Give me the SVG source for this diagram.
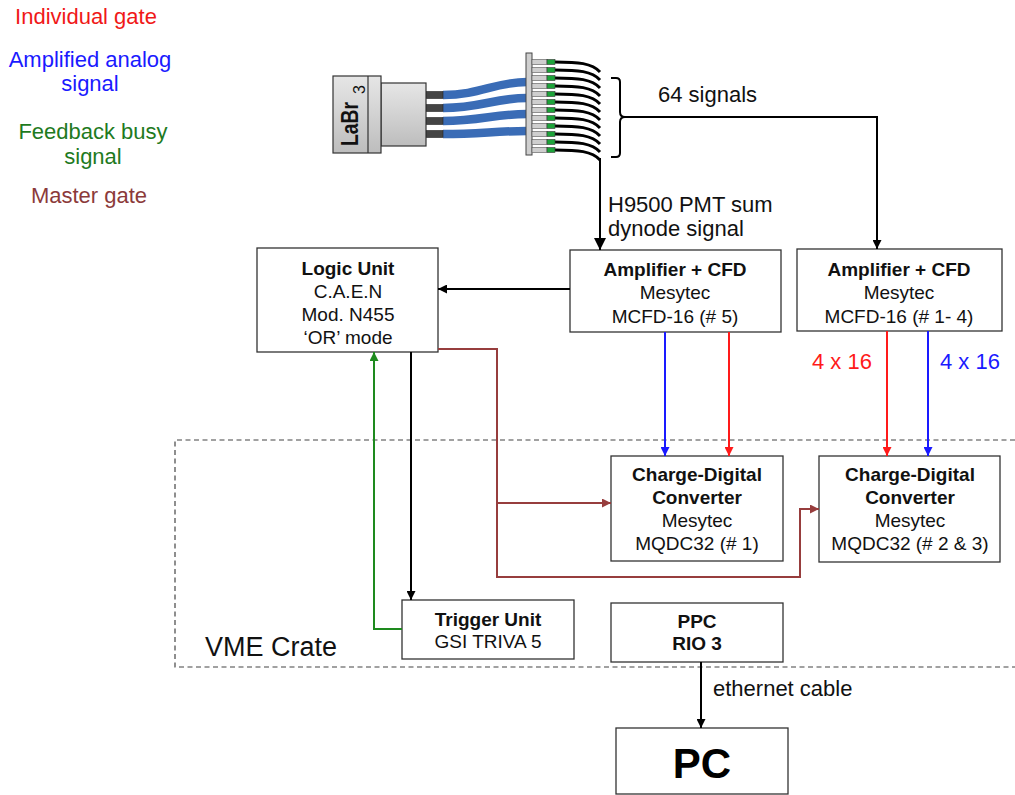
<svg xmlns="http://www.w3.org/2000/svg" width="1015" height="795" viewBox="0 0 1015 795">
  <defs>
    <style>
      text { font-family: "Liberation Sans", Arial, sans-serif; }
      .box { fill: #ffffff; stroke: #333333; stroke-width: 1.3; }
      .t { font-size: 19px; text-anchor: middle; fill: #111111; }
      .b { font-weight: bold; }
      .lbl { font-size: 22px; }
      .ink { fill: #111111; }
      .red { fill: #ff1a1a; }
      .blu { fill: #1a1aff; }
      .leg { font-size: 22px; text-anchor: middle; }
      .wire { fill: none; stroke-width: 2; }
      .k { stroke: #000000; }
      .r { stroke: #ff1a1a; }
      .u { stroke: #1a1aff; }
      .g { stroke: #1e8a1e; }
      .m { stroke: #973d3d; }
      .pin { fill: #cfcfcf; stroke: #555555; stroke-width: 0.6; }
      .grn { fill: #1da33a; stroke: #333333; stroke-width: 0.6; }
      .cab { fill: none; stroke: #000000; stroke-width: 3; }
      .cabw { fill: none; stroke: #ffffff; stroke-width: 5.5; }
      .blue { fill: none; stroke: #3a6cb6; stroke-width: 8.5; }
      .bluew { fill: none; stroke: #ffffff; stroke-width: 11; }
    </style>
    <linearGradient id="metal" x1="0" y1="0" x2="0" y2="1">
      <stop offset="0" stop-color="#e6e6e6"/>
      <stop offset="0.5" stop-color="#d2d2d2"/>
      <stop offset="1" stop-color="#bdbdbd"/>
    </linearGradient>
    <marker id="ak" viewBox="0 0 10 10" refX="10" refY="5" markerUnits="userSpaceOnUse" markerWidth="9" markerHeight="9" orient="auto"><path d="M0,0 L10,5 L0,10 z" fill="#000000"/></marker>
    <marker id="akb" viewBox="0 0 10 10" refX="10" refY="5" markerUnits="userSpaceOnUse" markerWidth="12" markerHeight="12" orient="auto"><path d="M0,0 L10,5 L0,10 z" fill="#000000"/></marker>
    <marker id="ar" viewBox="0 0 10 10" refX="10" refY="5" markerUnits="userSpaceOnUse" markerWidth="9" markerHeight="9" orient="auto"><path d="M0,0 L10,5 L0,10 z" fill="#ff1a1a"/></marker>
    <marker id="au" viewBox="0 0 10 10" refX="10" refY="5" markerUnits="userSpaceOnUse" markerWidth="9" markerHeight="9" orient="auto"><path d="M0,0 L10,5 L0,10 z" fill="#1a1aff"/></marker>
    <marker id="ag" viewBox="0 0 10 10" refX="10" refY="5" markerUnits="userSpaceOnUse" markerWidth="9" markerHeight="9" orient="auto"><path d="M0,0 L10,5 L0,10 z" fill="#1e8a1e"/></marker>
    <marker id="am" viewBox="0 0 10 10" refX="10" refY="5" markerUnits="userSpaceOnUse" markerWidth="9" markerHeight="9" orient="auto"><path d="M0,0 L10,5 L0,10 z" fill="#973d3d"/></marker>
  </defs>

  <rect width="1015" height="795" fill="#ffffff"/>

  <!-- colour legend -->
  <g id="legend">
    <text class="leg" x="86" y="24" fill="#f01818">Individual gate</text>
    <text class="leg" x="90" y="67" fill="#1a1aff">Amplified analog</text>
    <text class="leg" x="90" y="91" fill="#1a1aff">signal</text>
    <text class="leg" x="93" y="139" fill="#1e7a1e">Feedback busy</text>
    <text class="leg" x="93" y="164" fill="#1e7a1e">signal</text>
    <text class="leg" x="89" y="203" fill="#8b3a3a">Master gate</text>
  </g>

  <!-- VME crate outline (open on the right) -->
  <g id="vme-crate">
    <path d="M1015,440 H175 V667 H1015" fill="none" stroke="#444444" stroke-width="1.2" stroke-dasharray="5,3.5"/>
    <text x="205" y="656" font-size="27" fill="#111111">VME Crate</text>
  </g>

  <!-- LaBr3 detector with PMT, cables and signal connector -->
  <g id="detector">
    <path class="bluew" d="M443,95 C480,95 495,82 527,82"/>
    <path class="blue" d="M443,95 C480,95 495,82 527,82"/>
    <path class="bluew" d="M443,108 C480,108 495,98 527,98"/>
    <path class="blue" d="M443,108 C480,108 495,98 527,98"/>
    <path class="bluew" d="M443,121 C480,121 495,114 527,114"/>
    <path class="blue" d="M443,121 C480,121 495,114 527,114"/>
    <path class="bluew" d="M443,134 C480,134 495,131 527,131"/>
    <path class="blue" d="M443,134 C480,134 495,131 527,131"/>

    <rect x="426" y="91.5" width="17" height="7" fill="#444444" stroke="#222222" stroke-width="0.6"/>
    <rect x="426" y="104.5" width="17" height="7" fill="#444444" stroke="#222222" stroke-width="0.6"/>
    <rect x="426" y="117.5" width="17" height="7" fill="#444444" stroke="#222222" stroke-width="0.6"/>
    <rect x="426" y="130.5" width="17" height="7" fill="#444444" stroke="#222222" stroke-width="0.6"/>

    <rect x="381" y="83" width="45" height="63" fill="url(#metal)" stroke="#333333" stroke-width="1.2"/>
    <rect x="333" y="76" width="48" height="77" fill="url(#metal)" stroke="#333333" stroke-width="1.2"/>
    <line x1="368" y1="76" x2="368" y2="153" stroke="#333333" stroke-width="1.2"/>
    <text transform="translate(358,146) rotate(-90)" font-size="24" font-weight="bold" fill="#111111" textLength="44" lengthAdjust="spacingAndGlyphs">LaBr</text>
    <text transform="translate(365,94) rotate(-90)" font-size="16" fill="#111111">3</text>

    <!-- signal cables leaving the connector -->
    <path class="cabw" d="M555,62 C578,62 592,63 600,72"/>
    <path class="cab" d="M555,62 C578,62 592,63 600,72"/>
    <path class="cabw" d="M555,70 C578,70 592,71 600,80"/>
    <path class="cab" d="M555,70 C578,70 592,71 600,80"/>
    <path class="cabw" d="M555,78 C578,78 592,79 600,88"/>
    <path class="cab" d="M555,78 C578,78 592,79 600,88"/>
    <path class="cabw" d="M555,86 C578,86 592,87 600,96"/>
    <path class="cab" d="M555,86 C578,86 592,87 600,96"/>
    <path class="cabw" d="M555,94 C578,94 592,95 600,104"/>
    <path class="cab" d="M555,94 C578,94 592,95 600,104"/>
    <path class="cabw" d="M555,102 C578,102 592,103 600,112"/>
    <path class="cab" d="M555,102 C578,102 592,103 600,112"/>
    <path class="cabw" d="M555,110 C578,110 592,111 600,120"/>
    <path class="cab" d="M555,110 C578,110 592,111 600,120"/>
    <path class="cabw" d="M555,118 C578,118 592,119 600,128"/>
    <path class="cab" d="M555,118 C578,118 592,119 600,128"/>
    <path class="cabw" d="M555,126 C578,126 592,127 600,136"/>
    <path class="cab" d="M555,126 C578,126 592,127 600,136"/>
    <path class="cabw" d="M555,134 C578,134 592,135 600,144"/>
    <path class="cab" d="M555,134 C578,134 592,135 600,144"/>
    <path class="cabw" d="M555,142 C578,142 592,143 600,152"/>
    <path class="cab" d="M555,142 C578,142 592,143 600,152"/>
    <path class="cabw" d="M555,150 C578,150 592,151 600,160"/>
    <path class="cab" d="M555,150 C578,150 592,151 600,160"/>

    <rect x="526" y="53" width="6" height="102" fill="#cfcfcf" stroke="#444444" stroke-width="1"/>
    <g>
      <rect class="pin" x="532" y="59.5" width="15" height="5"/><rect class="grn" x="547" y="59.5" width="8" height="5"/>
      <rect class="pin" x="532" y="67.5" width="15" height="5"/><rect class="grn" x="547" y="67.5" width="8" height="5"/>
      <rect class="pin" x="532" y="75.5" width="15" height="5"/><rect class="grn" x="547" y="75.5" width="8" height="5"/>
      <rect class="pin" x="532" y="83.5" width="15" height="5"/><rect class="grn" x="547" y="83.5" width="8" height="5"/>
      <rect class="pin" x="532" y="91.5" width="15" height="5"/><rect class="grn" x="547" y="91.5" width="8" height="5"/>
      <rect class="pin" x="532" y="99.5" width="15" height="5"/><rect class="grn" x="547" y="99.5" width="8" height="5"/>
      <rect class="pin" x="532" y="107.5" width="15" height="5"/><rect class="grn" x="547" y="107.5" width="8" height="5"/>
      <rect class="pin" x="532" y="115.5" width="15" height="5"/><rect class="grn" x="547" y="115.5" width="8" height="5"/>
      <rect class="pin" x="532" y="123.5" width="15" height="5"/><rect class="grn" x="547" y="123.5" width="8" height="5"/>
      <rect class="pin" x="532" y="131.5" width="15" height="5"/><rect class="grn" x="547" y="131.5" width="8" height="5"/>
      <rect class="pin" x="532" y="139.5" width="15" height="5"/><rect class="grn" x="547" y="139.5" width="8" height="5"/>
      <rect class="pin" x="532" y="147.5" width="15" height="5"/><rect class="grn" x="547" y="147.5" width="8" height="5"/>
    </g>

    <!-- brace grouping the 64 outputs -->
    <path d="M611,78 H616 Q620,78 620,82 V112 Q620,117 625,117 Q620,117 620,122 V153 Q620,157 616,157 H611" fill="none" stroke="#000000" stroke-width="2"/>
  </g>

  <!-- nodes -->
  <g id="logic-unit">
    <rect class="box" x="257" y="248" width="181" height="104"/>
    <text class="t b" x="348" y="275">Logic Unit</text>
    <text class="t" x="348" y="298">C.A.E.N</text>
    <text class="t" x="348" y="321">Mod. N455</text>
    <text class="t" x="348" y="344">‘OR’ mode</text>
  </g>

  <g id="amp-cfd-5">
    <rect class="box" x="570" y="250" width="211" height="82"/>
    <text class="t b" x="675" y="276">Amplifier + CFD</text>
    <text class="t" x="675" y="299">Mesytec</text>
    <text class="t" x="675" y="323">MCFD-16 (# 5)</text>
  </g>

  <g id="amp-cfd-1-4">
    <rect class="box" x="797" y="249" width="205" height="82"/>
    <text class="t b" x="899" y="276">Amplifier + CFD</text>
    <text class="t" x="899" y="299">Mesytec</text>
    <text class="t" x="899" y="323">MCFD-16 (# 1- 4)</text>
  </g>

  <g id="qdc-1">
    <rect class="box" x="611" y="456" width="172" height="105"/>
    <text class="t b" x="697" y="481">Charge-Digital</text>
    <text class="t b" x="697" y="504">Converter</text>
    <text class="t" x="697" y="527">Mesytec</text>
    <text class="t" x="697" y="550">MQDC32 (# 1)</text>
  </g>

  <g id="qdc-2-3">
    <rect class="box" x="819" y="456" width="181" height="106"/>
    <text class="t b" x="910" y="481">Charge-Digital</text>
    <text class="t b" x="910" y="504">Converter</text>
    <text class="t" x="910" y="527">Mesytec</text>
    <text class="t" x="910" y="550">MQDC32 (# 2 &amp; 3)</text>
  </g>

  <g id="trigger-unit">
    <rect class="box" x="402" y="600" width="172" height="59"/>
    <text class="t b" x="488" y="626">Trigger Unit</text>
    <text class="t" x="488" y="648">GSI TRIVA 5</text>
  </g>

  <g id="ppc">
    <rect class="box" x="611" y="603" width="172" height="59"/>
    <text class="t b" x="697" y="628">PPC</text>
    <text class="t b" x="697" y="650">RIO 3</text>
  </g>

  <g id="pc">
    <rect class="box" x="616" y="728" width="172" height="66"/>
    <text x="702" y="778" font-size="42" font-weight="bold" text-anchor="middle" fill="#000000">PC</text>
  </g>

  <!-- connectors -->
  <g id="connectors">
    <!-- sum dynode to MCFD #5 -->
    <path class="wire k" d="M600,158 V250" stroke-width="3" marker-end="url(#akb)"/>
    <!-- 64 anode signals to MCFD #1-4 -->
    <path class="wire k" d="M624,117 H877 V249" marker-end="url(#ak)"/>
    <!-- MCFD #5 trigger output to logic unit -->
    <path class="wire k" d="M570,289 H438" marker-end="url(#ak)"/>
    <!-- MCFD #5 to QDC #1 -->
    <path class="wire u" d="M665,332 V456" marker-end="url(#au)"/>
    <path class="wire r" d="M729,332 V456" marker-end="url(#ar)"/>
    <!-- MCFD #1-4 to QDC #2 & 3 -->
    <path class="wire r" d="M887,331 V456" marker-end="url(#ar)"/>
    <path class="wire u" d="M928,331 V456" marker-end="url(#au)"/>
    <!-- master gate distribution -->
    <path class="wire m" d="M438,349 H497 V577 H800 V509 H819" marker-end="url(#am)"/>
    <path class="wire m" d="M497,503 H611" marker-end="url(#am)"/>
    <!-- logic unit to trigger unit -->
    <path class="wire k" d="M411,352 V600" marker-end="url(#ak)"/>
    <!-- busy feedback -->
    <path class="wire g" d="M402,629 H374 V352" marker-end="url(#ag)"/>
    <!-- ethernet link -->
    <path class="wire k" d="M701,662 V728" marker-end="url(#ak)"/>
  </g>

  <!-- connector labels -->
  <g id="labels">
    <text class="lbl ink" x="658" y="102">64 signals</text>
    <text class="lbl ink" x="608" y="212">H9500 PMT sum</text>
    <text class="lbl ink" x="608" y="236">dynode signal</text>
    <text class="lbl red" x="812" y="369">4 x 16</text>
    <text class="lbl blu" x="940" y="369">4 x 16</text>
    <text class="lbl ink" x="713" y="696">ethernet cable</text>
  </g>
</svg>
